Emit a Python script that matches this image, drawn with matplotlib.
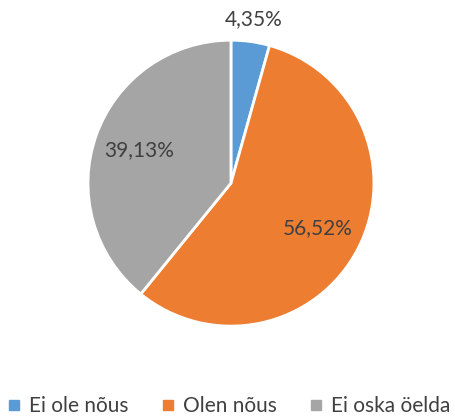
import numpy as np
import matplotlib.pyplot as plt
from matplotlib.lines import Line2D

labels = ['Ei ole nõus', 'Olen nõus', 'Ei oska öelda']
values = [4.35, 56.52, 39.13]
colors = ['#5B9BD5', '#ED7D31', '#A5A5A5']

plt.rcParams['font.family'] = ['Lato', 'DejaVu Sans']

fig = plt.figure(figsize=(4.56, 4.16), dpi=100)
ax = fig.add_axes([0.193, 0.216, 0.627, 0.6875])

wedges, texts, autotexts = ax.pie(values, colors=colors, startangle=90, counterclock=False,
                                  autopct=lambda p: ('%.2f%%' % p).replace('.', ','),
                                  pctdistance=0.68,
                                  wedgeprops=dict(edgecolor='white', linewidth=2))
for t in autotexts:
    t.set_color('#404040')
    t.set_fontsize(15)

# small slice: label goes outside
w = wedges[0]
ang = np.deg2rad((w.theta1 + w.theta2) / 2)
autotexts[0].set_position((1.16 * np.cos(ang), 1.16 * np.sin(ang)))
ax.set_xlim(-1, 1)
ax.set_ylim(-1, 1)

handles = [Line2D([0], [0], marker='s', color='none', markerfacecolor=c, markeredgecolor=c, markersize=7)
           for c in colors]
fig.legend(handles, labels, loc='lower center', bbox_to_anchor=(0.5, -0.045), ncol=3, frameon=False,
           fontsize=15, labelcolor='#404040', handletextpad=0.3, columnspacing=1.5, handlelength=0.8)

fig.savefig('out.png', dpi=100)
